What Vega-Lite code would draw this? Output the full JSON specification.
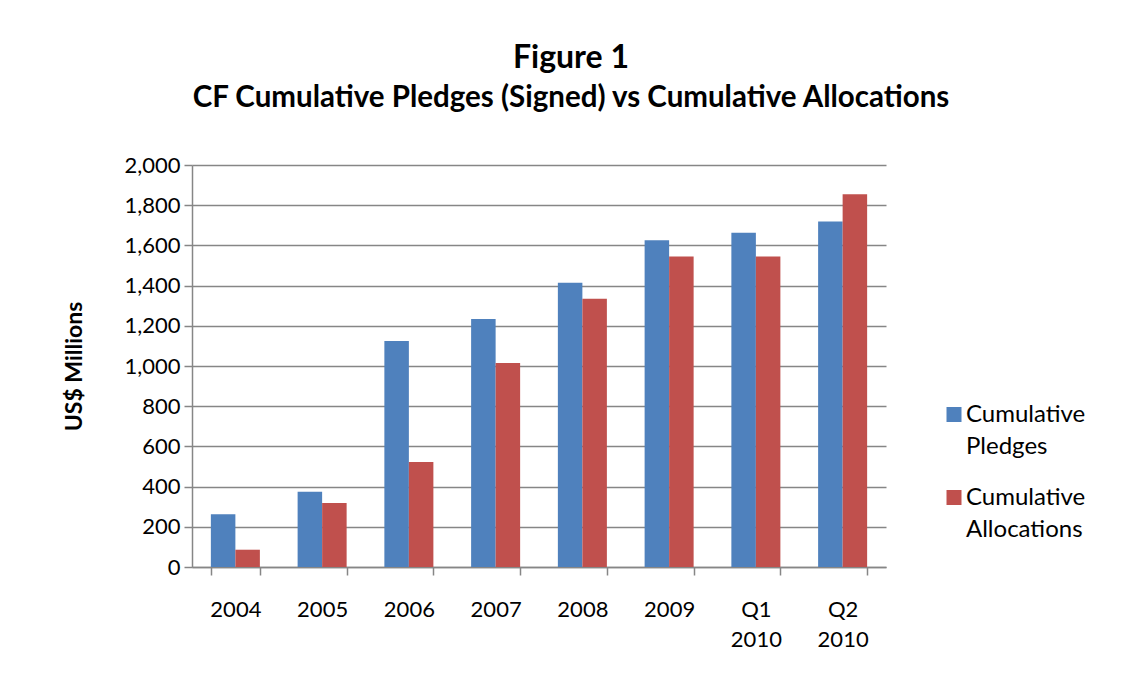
{
  "$schema": "https://vega.github.io/schema/vega-lite/v6.json",
  "width": 694,
  "height": 402,
  "autosize": {"type": "none"},
  "padding": {"left": 192, "top": 165, "right": 235, "bottom": 115},
  "background": "white",
  "title": {
    "text": "Figure 1",
    "subtitle": "CF Cumulative Pledges (Signed) vs Cumulative Allocations",
    "anchor": "middle",
    "frame": "group",
    "dx": 32,
    "offset": 41,
    "font": "Lato",
    "fontSize": 32,
    "fontWeight": "bold",
    "color": "#000000",
    "subtitleFont": "Lato",
    "subtitleFontSize": 29.5,
    "subtitleFontWeight": "bold",
    "subtitleColor": "#000000",
    "subtitlePadding": 9
  },
  "data": {
    "values": [
      {"period": "2004", "series": "Cumulative Pledges", "value": 263},
      {"period": "2004", "series": "Cumulative Allocations", "value": 86},
      {"period": "2005", "series": "Cumulative Pledges", "value": 374},
      {"period": "2005", "series": "Cumulative Allocations", "value": 319},
      {"period": "2006", "series": "Cumulative Pledges", "value": 1124},
      {"period": "2006", "series": "Cumulative Allocations", "value": 523},
      {"period": "2007", "series": "Cumulative Pledges", "value": 1234},
      {"period": "2007", "series": "Cumulative Allocations", "value": 1015},
      {"period": "2008", "series": "Cumulative Pledges", "value": 1414},
      {"period": "2008", "series": "Cumulative Allocations", "value": 1334},
      {"period": "2009", "series": "Cumulative Pledges", "value": 1626},
      {"period": "2009", "series": "Cumulative Allocations", "value": 1545},
      {"period": "Q1 2010", "series": "Cumulative Pledges", "value": 1663},
      {"period": "Q1 2010", "series": "Cumulative Allocations", "value": 1545},
      {"period": "Q2 2010", "series": "Cumulative Pledges", "value": 1719},
      {"period": "Q2 2010", "series": "Cumulative Allocations", "value": 1854}
    ]
  },
  "mark": {"type": "bar"},
  "encoding": {
    "x": {
      "field": "period",
      "type": "nominal",
      "sort": null,
      "scale": {"paddingInner": 0.435, "paddingOuter": 0.2175},
      "axis": {
        "title": null,
        "labelAngle": 0,
        "labelExpr": "split(datum.label, ' ')",
        "labelFont": "Lato",
        "labelFontSize": 22,
        "labelColor": "#000000",
        "labelLineHeight": 30,
        "labelPadding": 24,
        "tickBand": "extent",
        "tickSize": 8,
        "tickColor": "#868686",
        "tickWidth": 1.5,
        "domainColor": "#868686",
        "domainWidth": 1.5,
        "grid": false
      }
    },
    "xOffset": {
      "field": "series",
      "type": "nominal",
      "sort": ["Cumulative Pledges", "Cumulative Allocations"]
    },
    "y": {
      "field": "value",
      "type": "quantitative",
      "scale": {"domain": [0, 2000], "nice": false},
      "axis": {
        "title": "US$ Millions",
        "titleFont": "Lato",
        "titleFontSize": 23,
        "titleFontWeight": "bold",
        "titleColor": "#000000",
        "titlePadding": 37,
        "values": [0, 200, 400, 600, 800, 1000, 1200, 1400, 1600, 1800, 2000],
        "format": ",d",
        "labelFont": "Lato",
        "labelFontSize": 22,
        "labelColor": "#000000",
        "labelPadding": 4,
        "tickSize": 8,
        "tickColor": "#868686",
        "tickWidth": 1.5,
        "domainColor": "#868686",
        "domainWidth": 1.5,
        "gridColor": "#868686",
        "gridWidth": 1.5
      }
    },
    "color": {
      "field": "series",
      "type": "nominal",
      "sort": ["Cumulative Pledges", "Cumulative Allocations"],
      "scale": {
        "domain": ["Cumulative Pledges", "Cumulative Allocations"],
        "range": ["#4F81BD", "#C0504D"]
      },
      "legend": {
        "title": null,
        "orient": "none",
        "legendX": 750,
        "legendY": 245,
        "symbolType": "M-1,-2H1V0H-1Z",
        "symbolSize": 225,
        "symbolStrokeWidth": 0,
        "labelExpr": "split(datum.label, ' ')",
        "labelFont": "Lato",
        "labelFontSize": 24,
        "labelColor": "#000000",
        "labelBaseline": "alphabetic",
        "labelLimit": 300,
        "labelOffset": 0,
        "rowPadding": 27,
        "encode": {
          "labels": {"update": {"lineHeight": {"value": 32}}}
        }
      }
    }
  },
  "config": {
    "view": {"stroke": null}
  }
}
